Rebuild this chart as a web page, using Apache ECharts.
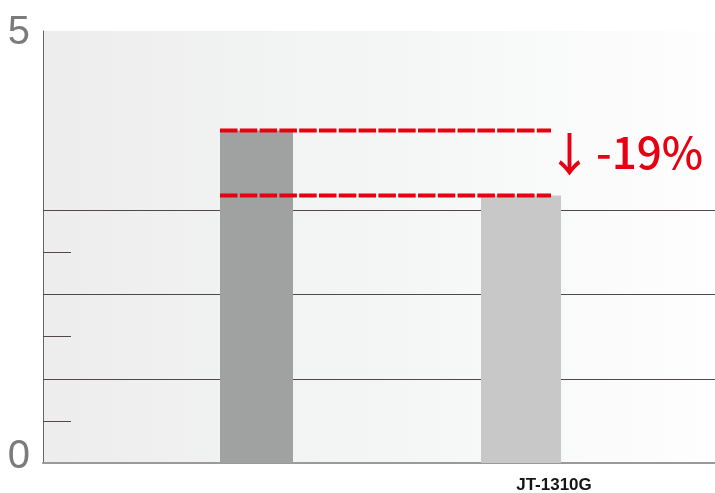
<!DOCTYPE html>
<html><head><meta charset="utf-8">
<script src="https://cdn.jsdelivr.net/npm/echarts@6/dist/echarts.min.js"></script>
<style>html,body{margin:0;padding:0;background:#fff}#c{width:715px;height:493px}</style>
</head><body><div id="c"></div>
<script>
const categories = ['', 'JT-1310G'];
const barValues = [3.94, 3.17];
const yTickLabels = ['0', '5'];
const gridLineValues = [1, 2, 3];
const minorTickValues = [0.5, 1.5, 2.5];
const changeArrow = '\u2193';
const changeText = '-19%';
const Y_MAX = 5.12;

const chart = echarts.init(document.getElementById('c'), null, {renderer: 'canvas'});

function hLineSeries(values, lenFn, color) {
  return {
    type: 'custom', xAxisIndex: 0, yAxisIndex: 0, silent: true, z: 3,
    data: values.map(v => [0, v]),
    encode: {x: 0, y: 1},
    renderItem: function (params, api) {
      const cs = params.coordSys;
      const y = Math.round(api.coord([0, api.value(1)])[1]) + 0.5;
      return {
        type: 'line',
        shape: {x1: cs.x, y1: y, x2: cs.x + lenFn(cs), y2: y},
        style: {stroke: color, lineWidth: 1}
      };
    }
  };
}

const option = {
  animation: false,
  backgroundColor: '#ffffff',
  grid: [
    {left: 43, right: 0, top: 31, bottom: 30, show: true, borderWidth: 0, outerBoundsMode: 'none', containLabel: false,
     backgroundColor: new echarts.graphic.LinearGradient(0, 0, 1, 0, [
       {offset: 0, color: '#ededed'}, {offset: 0.5, color: '#f4f5f5'}, {offset: 1, color: '#fefefe'}])},
    {left: 129.5, right: 63.5, top: 31, bottom: 30, outerBoundsMode: 'none', containLabel: false}
  ],
  xAxis: [
    {gridIndex: 0, type: 'value', min: 0, max: 1, position: 'bottom',
     axisLine: {show: true, lineStyle: {color: '#7a7272', width: 1.5}},
     axisTick: {show: false}, axisLabel: {show: false}, splitLine: {show: false}},
    {gridIndex: 0, type: 'value', min: 0, max: 1, position: 'top',
     axisLine: {show: true, lineStyle: {color: '#9a9a9a', width: 2}},
     axisTick: {show: false}, axisLabel: {show: false}, splitLine: {show: false}},
    {gridIndex: 1, type: 'category', data: categories,
     axisLine: {show: false}, axisTick: {show: false},
     axisLabel: {show: true, fontFamily: 'Liberation Sans', fontWeight: 'bold', fontSize: 17,
       color: '#151515', margin: 14, padding: [0, 0, 0, 66]}}
  ],
  yAxis: [
    {gridIndex: 0, type: 'value', min: 0, max: Y_MAX, position: 'left',
     axisLine: {show: true, lineStyle: {color: '#6b6363', width: 1}},
     axisTick: {show: false}, axisLabel: {show: false}, splitLine: {show: false}},
    {gridIndex: 0, type: 'value', min: 0, max: 1, interval: 1, position: 'left',
     axisLine: {show: false}, axisTick: {show: false}, splitLine: {show: false},
     axisLabel: {show: true, margin: 13,
       formatter: v => v === 0 ? '{b|' + yTickLabels[0] + '}' : '{t|' + yTickLabels[1] + '}',
       rich: {
         b: {fontFamily: 'Liberation Sans', fontSize: 40, color: '#7b7b7b', padding: [0, 0, 12, 0]},
         t: {fontFamily: 'Liberation Sans', fontSize: 40, color: '#7b7b7b', padding: [4, 0, 0, 0]}
       }}},
    {gridIndex: 1, type: 'value', min: 0, max: Y_MAX, show: false}
  ],
  series: [
    hLineSeries(gridLineValues, cs => cs.width, '#524848'),
    hLineSeries(minorTickValues, cs => 28, '#524848'),
    {type: 'bar', xAxisIndex: 2, yAxisIndex: 2, barWidth: 73, barGap: '-100%', z: 4,
     data: [barValues[0], '-'], itemStyle: {color: '#a0a2a1'}},
    {type: 'bar', xAxisIndex: 2, yAxisIndex: 2, barWidth: 80, barGap: '-100%', z: 4,
     data: ['-', barValues[1]], itemStyle: {color: '#c8c8c8'}},
    {type: 'custom', xAxisIndex: 2, yAxisIndex: 2, silent: true, z: 6,
     data: [[0, barValues[0], 1, barValues[1]]],
     encode: {x: 0, y: 1},
     renderItem: function (params, api) {
       const p0 = api.coord([api.value(0), api.value(1)]);
       const p1 = api.coord([api.value(2), api.value(3)]);
       const xs = p0[0] - 40, xe = p1[0] + 30;
       const st = {stroke: '#e60012', lineWidth: 4, lineDash: [17.5, 2.3]};
       const ym = (p0[1] + p1[1]) / 2 - 11;
       return {
         type: 'group',
         children: [
           {type: 'line', shape: {x1: xs, y1: p0[1], x2: xe, y2: p0[1]}, style: st},
           {type: 'line', shape: {x1: xs, y1: p1[1], x2: xe, y2: p1[1]}, style: st},
           {type: 'text', style: {x: xe + 18.5, y: ym + 1, text: changeArrow,
             fill: '#e60012', font: '500 46px "Noto Sans CJK JP"', textAlign: 'center', textVerticalAlign: 'middle'}},
           {type: 'text', style: {x: xe + 45, y: ym, text: changeText,
             fill: '#e60012', font: '500 44px "Noto Sans CJK JP"', textAlign: 'left', textVerticalAlign: 'middle'}}
         ]
       };
     }}
  ]
};
chart.setOption(option);
</script></body></html>
